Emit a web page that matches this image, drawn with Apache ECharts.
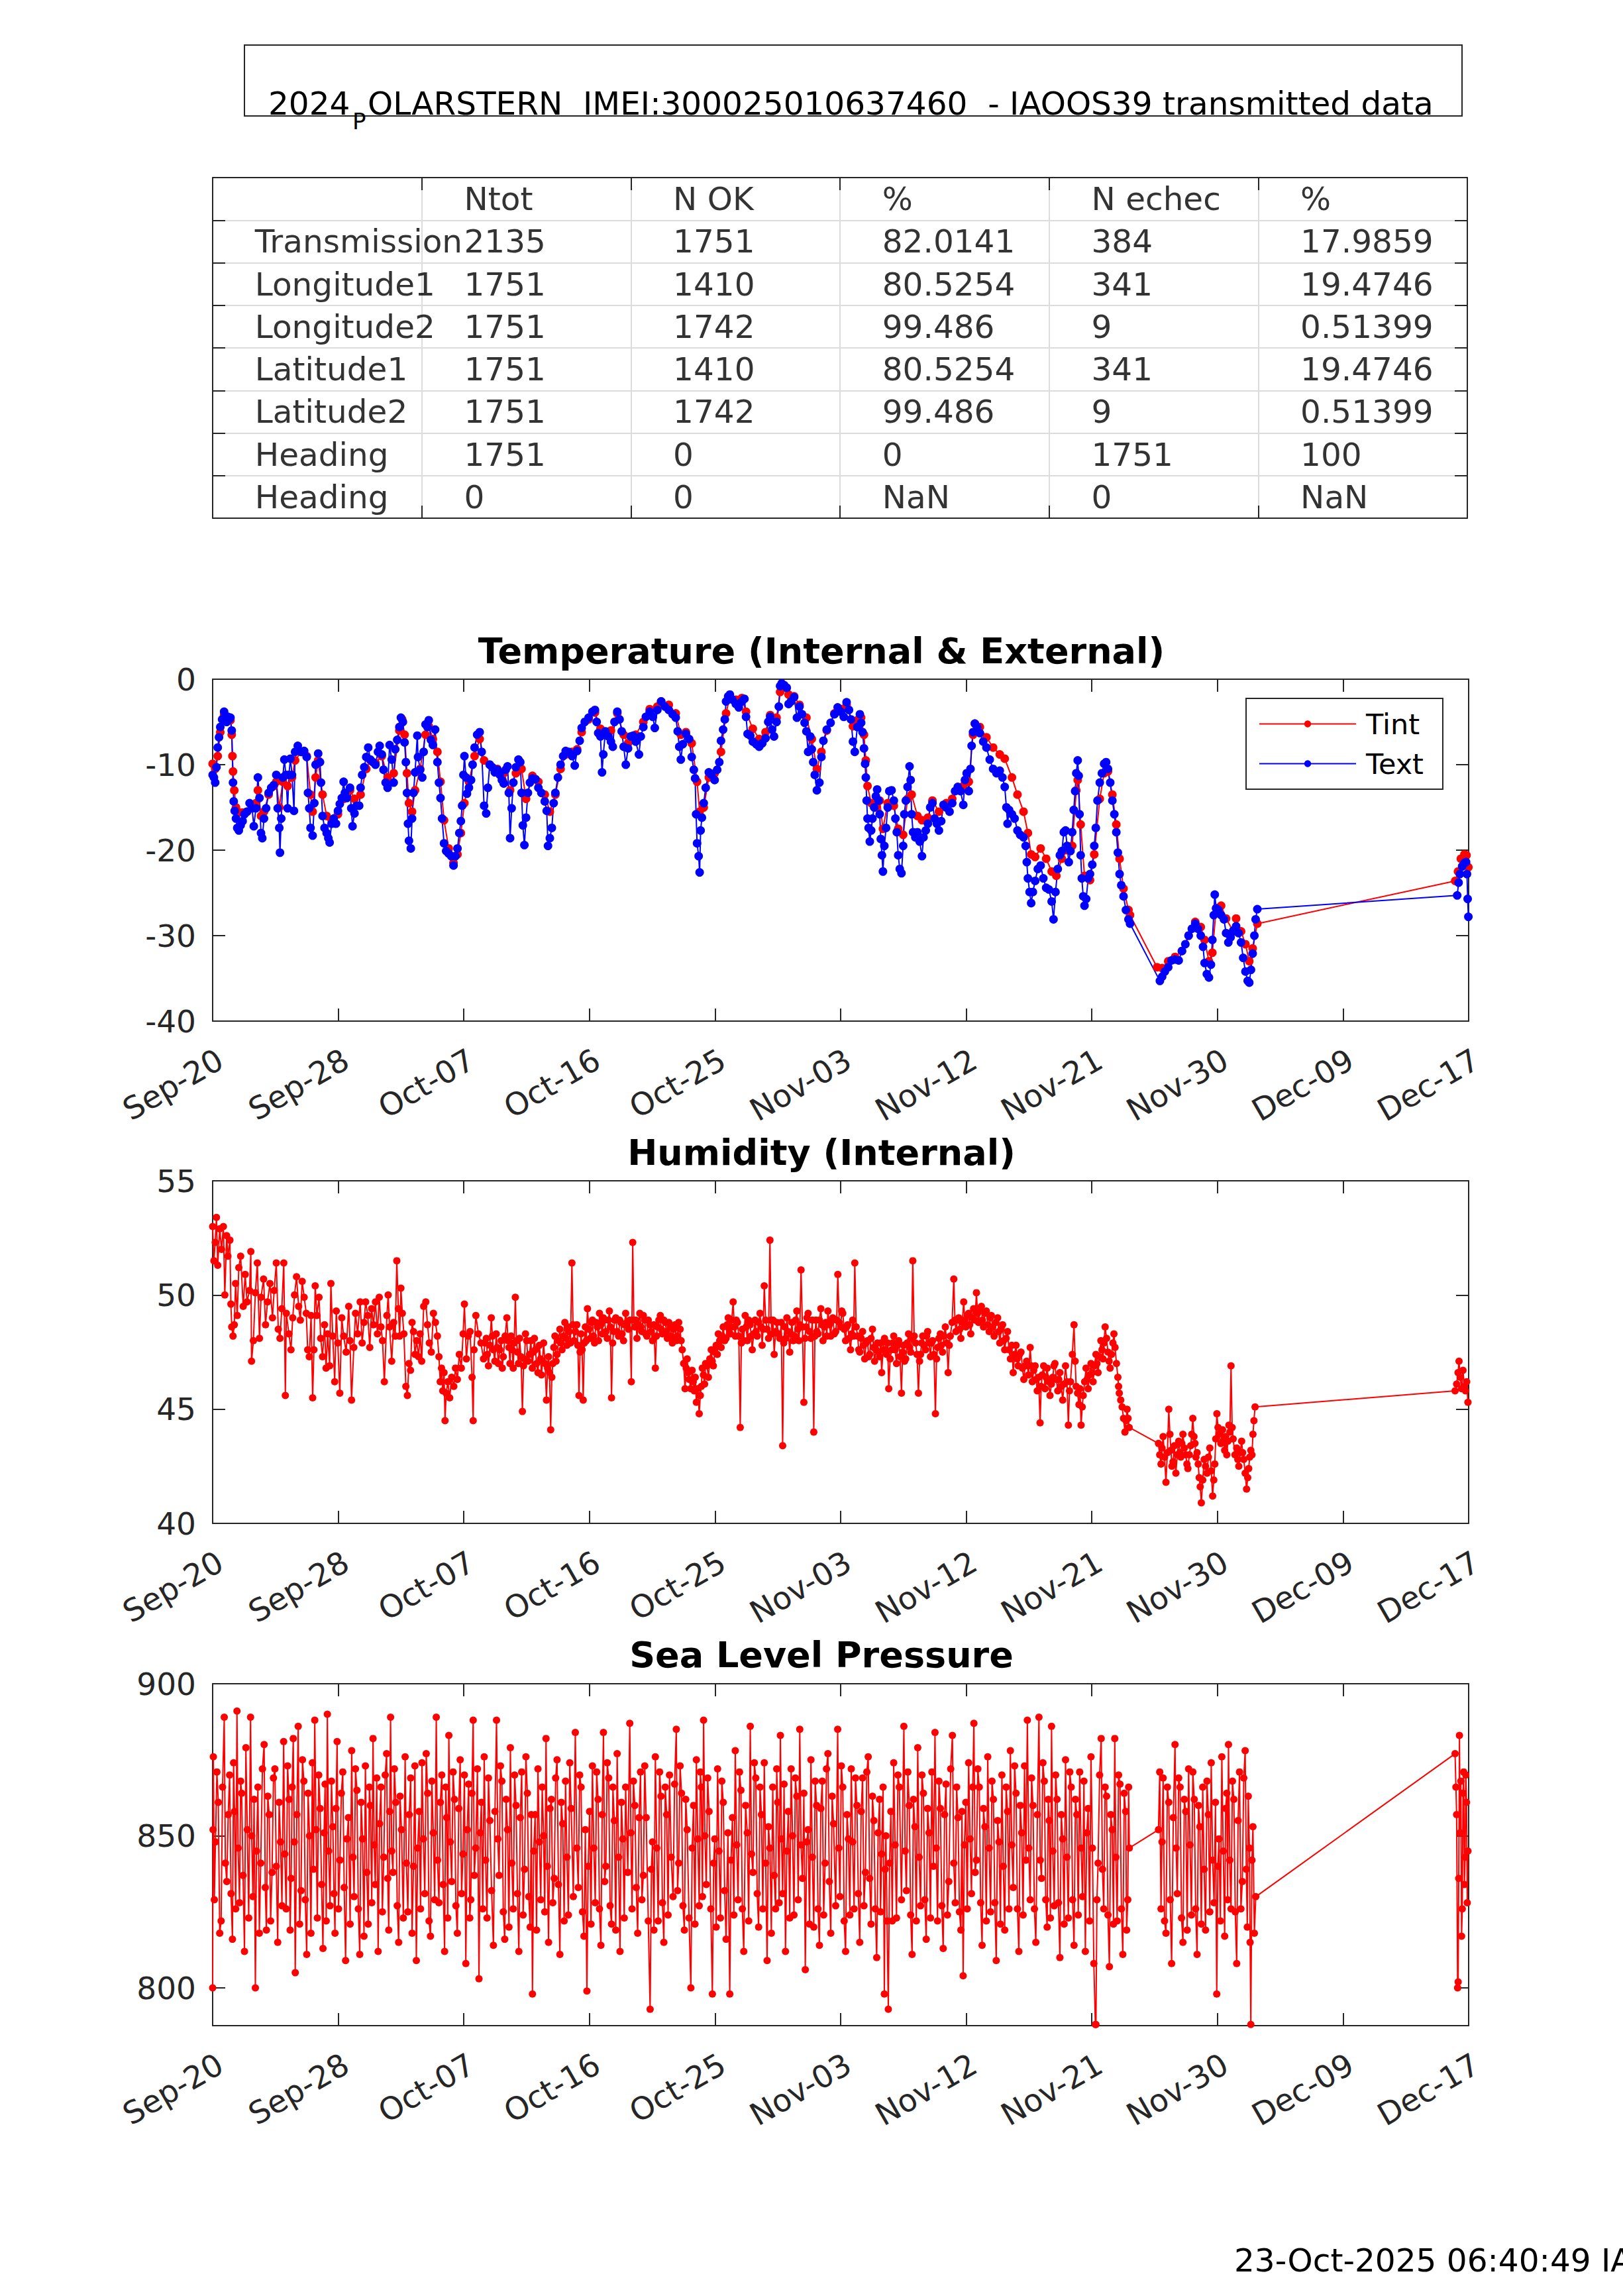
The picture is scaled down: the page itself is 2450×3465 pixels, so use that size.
<!DOCTYPE html>
<html><head><meta charset="utf-8">
<script src="https://cdn.jsdelivr.net/npm/echarts@6/dist/echarts.min.js"></script>
<style>html,body{margin:0;padding:0;background:#fff}#c{width:2450px;height:3465px}</style>
</head><body><div id="c"></div>
<script>
const FONT = 'DejaVu Sans';
const AXC = '#262626';

// x axis: days after the left edge (Sep-20), 10 equal tick intervals
const tickLabels = ['Sep-20','Sep-28','Oct-07','Oct-16','Oct-25','Nov-03','Nov-12','Nov-21','Nov-30','Dec-09','Dec-17'];
const X_MAX = 88.8, X_STEP = 8.88;

const tableHeader = ['', 'Ntot', 'N OK', '%', 'N echec', '%'];
const tableRows = [
  ['Transmission','2135','1751','82.0141','384','17.9859'],
  ['Longitude1','1751','1410','80.5254','341','19.4746'],
  ['Longitude2','1751','1742','99.486','9','0.51399'],
  ['Latitude1','1751','1410','80.5254','341','19.4746'],
  ['Latitude2','1751','1742','99.486','9','0.51399'],
  ['Heading','1751','0','0','1751','100'],
  ['Heading','0','0','NaN','0','NaN']
];

const plotTitles = ['Temperature (Internal & External)', 'Humidity (Internal)', 'Sea Level Pressure'];
const seriesNames = ['Tint', 'Text'];

const tintData = [
[0.00,-9.9],[0.18,-10.5],[0.36,-9.0],[0.54,-6.2],[0.81,-4.2],[1.08,-4.8],[1.26,-4.8],[1.35,-6.5],[1.40,-9.0],[1.44,-10.8],[1.53,-13.0],[1.65,-15.0],[1.85,-15.6],[2.12,-15.6],[2.43,-15.5],[2.79,-15.0],[3.06,-14.5],[3.20,-13.0],[3.42,-16.0],[3.63,-15.5],[3.96,-13.5],[4.32,-12.5],[4.50,-12.0],[4.71,-15.0],[4.96,-12.0],[5.30,-12.5],[5.61,-11.5],[5.83,-9.5],[6.26,-8.5],[6.65,-9.0],[6.92,-13.5],[7.07,-15.5],[7.28,-11.5],[7.46,-9.5],[7.77,-13.5],[8.06,-16.0],[8.41,-16.5],[8.86,-15.8],[9.26,-14.0],[9.71,-13.0],[10.03,-14.0],[10.46,-13.5],[10.86,-10.5],[11.15,-9.5],[11.51,-9.8],[11.96,-9.0],[12.37,-11.5],[12.80,-11.0],[13.20,-6.0],[13.40,-4.7],[13.57,-6.5],[13.74,-11.0],[13.88,-14.5],[14.10,-15.5],[14.31,-13.0],[14.67,-10.5],[15.05,-6.5],[15.28,-5.5],[15.57,-7.0],[15.89,-8.5],[16.11,-12.0],[16.36,-16.5],[16.69,-19.8],[17.03,-21.5],[17.31,-20.5],[17.55,-18.0],[17.80,-14.5],[18.12,-12.0],[18.52,-9.0],[18.88,-7.0],
[19.19,-9.5],[19.59,-10.0],[20.13,-10.5],[20.58,-11.0],[21.03,-13.0],[21.44,-11.0],[21.84,-10.5],[22.16,-14.0],[22.61,-11.3],[23.03,-12.0],[23.48,-13.5],[23.84,-15.5],[24.23,-13.5],[24.60,-10.5],[24.96,-8.8],[25.41,-8.5],[25.77,-8.2],[26.09,-6.2],[26.58,-4.7],[27.03,-3.9],[27.42,-5.8],[27.77,-6.2],[28.16,-6.0],[28.61,-4.0],[29.06,-6.5],[29.37,-7.5],[29.91,-6.5],[30.45,-5.0],[30.90,-3.5],[31.44,-3.2],[31.71,-2.6],[32.25,-3.0],[32.74,-4.0],[33.10,-6.5],[33.46,-6.2],[33.87,-7.5],[34.25,-12.0],[34.43,-15.5],[34.72,-15.0],[35.08,-11.5],[35.49,-11.0],[35.94,-8.5],[36.30,-4.0],[36.57,-2.0],[36.99,-2.4],[37.42,-2.2],[37.71,-3.8],[38.19,-5.8],[38.64,-7.0],[39.09,-6.2],[39.42,-4.2],[39.87,-4.5],[40.12,-1.5],[40.41,-1.0],[40.72,-1.8],[41.11,-2.0],[41.49,-3.0],[41.98,-4.5],[42.36,-7.0],[42.72,-10.5],[43.04,-8.5],[43.42,-6.0],[43.96,-4.0],[44.41,-3.5],[44.82,-3.0],[45.27,-5.5],[45.58,-4.8],
[45.85,-4.5],[46.05,-6.5],[46.18,-9.5],[46.30,-12.5],[46.56,-14.5],[46.89,-15.0],[47.16,-14.2],[47.39,-17.5],[47.73,-14.5],[48.16,-14.8],[48.47,-17.5],[48.82,-18.2],[49.13,-14.0],[49.42,-13.5],[49.83,-16.0],[50.15,-16.5],[50.57,-16.2],[50.89,-14.2],[51.35,-15.5],[51.86,-14.5],[52.29,-14.0],[52.68,-13.0],[53.07,-12.5],[53.46,-12.0],[53.76,-6.5],[53.89,-5.2],[54.24,-5.6],[54.71,-6.8],[55.18,-8.0],[55.65,-8.8],[56.00,-9.3],[56.51,-11.5],[56.90,-13.5],[57.33,-15.5],[57.64,-18.0],[57.87,-20.5],[58.15,-20.8],[58.54,-19.8],[58.93,-21.0],[59.32,-22.5],
[59.65,-23.0],[60.04,-21.0],[60.41,-20.0],[60.77,-19.5],[61.06,-13.0],[61.16,-11.8],[61.37,-17.0],[61.64,-23.0],[62.03,-23.5],[62.33,-20.5],[62.72,-14.0],[63.03,-11.0],[63.30,-10.8],[63.61,-13.5],[63.89,-17.0],[64.12,-21.0],[64.40,-24.5],[64.75,-27.0],[64.86,-27.6],
[66.77,-33.7],[67.13,-33.8],[67.56,-33.0],[68.04,-32.5],[68.53,-31.8],[69.00,-30.0],[69.47,-28.4],[69.86,-29.0],[70.13,-30.5],[70.44,-33.0],[70.68,-32.0],[70.95,-26.8],[71.30,-26.5],[71.65,-28.0],[72.16,-29.5],[72.36,-28.0],[72.71,-29.5],[73.02,-31.0],[73.29,-33.0],[73.53,-31.5],[73.86,-28.6],
[87.85,-23.6],[88.05,-22.5],[88.25,-21.0],[88.50,-20.5],[88.65,-20.6],[88.78,-22.0]
];

const textData = [
[0.00,-11.2],[0.09,-11.5],[0.18,-12.1],[0.27,-10.3],[0.36,-8.0],[0.45,-6.8],[0.54,-5.6],[0.67,-4.7],[0.81,-3.8],[0.90,-4.4],[0.99,-5.0],[1.08,-4.4],[1.17,-4.7],[1.26,-4.5],[1.35,-6.0],[1.44,-12.1],[1.49,-14.3],[1.56,-15.4],[1.65,-16.3],[1.74,-17.4],[1.85,-17.7],[1.98,-17.1],[2.12,-16.6],[2.25,-15.8],[2.43,-15.5],[2.61,-14.5],[2.79,-15.1],[2.91,-17.2],[3.06,-15.1],[3.20,-11.5],[3.31,-13.9],[3.42,-18.0],[3.51,-18.6],[3.63,-16.3],[3.78,-15.1],[3.96,-13.3],[4.14,-12.7],[4.32,-12.4],[4.50,-11.2],[4.60,-15.1],[4.71,-17.4],[4.76,-20.3],[4.85,-16.3],[4.96,-11.5],[5.07,-9.4],[5.18,-11.2],[5.30,-15.1],[5.39,-11.2],[5.50,-9.3],[5.61,-11.2],[5.75,-15.4],[5.83,-8.5],[6.02,-7.8],[6.26,-8.5],[6.47,-8.4],[6.65,-9.1],[6.74,-13.3],[6.83,-15.1],[6.92,-17.4],[7.07,-18.3],[7.19,-14.5],[7.28,-10.0],[7.46,-8.7],[7.59,-9.7],[7.66,-12.1],[7.77,-16.0],[7.91,-17.4],[8.06,-18.0],[8.18,-18.6],[8.27,-19.1],[8.41,-16.9],[8.56,-16.3],[8.72,-16.9],[8.86,-15.4],[8.99,-14.6],[9.13,-13.9],[9.26,-12.0],[9.35,-13.3],[9.49,-13.9],[9.71,-12.7],[9.80,-15.1],[9.89,-17.2],[10.03,-15.7],[10.18,-14.8],[10.36,-14.8],[10.46,-12.7],[10.57,-11.2],[10.72,-10.3],[10.86,-9.1],[11.00,-8.0],[11.15,-9.4],[11.33,-9.7],[11.51,-10.0],[11.69,-8.5],[11.81,-7.8],[11.96,-8.8],[12.08,-10.6],[12.23,-12.1],[12.37,-12.7],[12.51,-7.7],[12.66,-9.4],[12.80,-12.1],[12.91,-8.2],[13.05,-7.1],[13.20,-5.6],[13.31,-4.5],[13.45,-5.0],[13.57,-7.4],[13.66,-9.7],[13.74,-13.3],[13.81,-16.9],[13.88,-18.9],[14.01,-19.8],[14.10,-16.3],[14.20,-13.3],[14.31,-10.9],[14.47,-6.6],[14.52,-9.1],[14.67,-10.6],[14.82,-11.5],[14.92,-8.5],[15.05,-5.3],[15.19,-5.6],[15.28,-4.8],[15.43,-7.1],[15.57,-7.7],[15.73,-5.9],[15.89,-9.7],[16.00,-12.1],[16.11,-13.9],[16.22,-16.3],[16.36,-19.2],[16.51,-20.1],[16.69,-20.4],[16.87,-20.7],[17.03,-21.8],[17.17,-20.7],[17.31,-19.8],[17.44,-18.0],[17.55,-16.6],[17.64,-14.8],[17.73,-11.2],[17.80,-9.0],[17.91,-11.5],[17.98,-13.4],[18.12,-12.7],[18.27,-11.8],[18.38,-10.0],[18.52,-8.0],[18.70,-6.5],[18.88,-6.2],[19.02,-8.5],
[19.19,-14.8],[19.34,-15.7],[19.46,-12.7],[19.59,-10.0],[19.77,-10.3],[19.95,-10.9],[20.13,-10.6],[20.31,-11.2],[20.45,-11.8],[20.58,-12.2],[20.72,-10.6],[20.85,-10.2],[20.94,-13.3],[21.03,-18.6],[21.14,-15.1],[21.26,-12.1],[21.44,-10.3],[21.62,-9.4],[21.75,-9.7],[21.84,-13.3],[21.93,-17.1],[22.04,-19.4],[22.16,-16.2],[22.29,-13.3],[22.43,-12.1],[22.61,-11.6],[22.83,-11.7],[23.03,-12.7],[23.24,-13.3],[23.48,-14.3],[23.62,-15.4],[23.71,-19.5],[23.84,-18.6],[23.98,-17.4],[24.11,-14.5],[24.23,-13.3],[24.41,-11.5],[24.60,-10.0],[24.78,-9.0],[24.96,-8.4],[25.17,-8.5],[25.41,-9.0],[25.60,-10.1],[25.77,-8.4],[25.95,-7.2],[26.09,-5.7],[26.31,-5.0],[26.58,-4.5],[26.85,-3.8],[27.03,-3.6],[27.15,-5.0],[27.26,-6.3],[27.42,-6.7],[27.53,-10.9],[27.62,-8.8],[27.77,-6.1],[27.98,-6.7],[28.16,-7.3],[28.29,-7.9],[28.41,-5.0],[28.61,-3.8],[28.77,-4.7],[28.92,-6.1],[29.06,-7.9],[29.21,-10.0],[29.37,-8.1],[29.55,-6.7],[29.73,-6.6],[29.91,-7.3],[30.14,-8.8],[30.27,-6.7],[30.45,-5.6],[30.63,-4.4],[30.90,-3.8],[31.12,-4.4],[31.26,-5.7],[31.44,-3.6],[31.71,-2.6],[31.98,-3.2],[32.25,-3.6],[32.52,-4.1],[32.74,-4.5],[32.88,-6.1],[32.99,-7.9],[33.10,-9.4],[33.24,-7.6],[33.46,-6.4],[33.69,-7.0],[33.87,-9.1],[34.02,-10.6],[34.11,-11.6],[34.18,-15.8],[34.25,-19.2],[34.36,-20.7],[34.43,-22.6],[34.50,-17.7],[34.59,-16.2],[34.72,-14.5],[34.86,-12.7],[35.08,-10.9],[35.26,-11.2],[35.49,-11.8],[35.67,-10.6],[35.82,-9.7],[35.94,-7.2],[36.09,-5.9],[36.21,-4.7],[36.30,-2.6],[36.45,-2.0],[36.57,-1.8],[36.75,-2.4],[36.99,-2.9],[37.20,-3.3],[37.42,-2.6],[37.60,-2.3],[37.71,-4.4],[37.82,-6.4],[38.01,-6.6],[38.19,-7.3],[38.43,-7.6],[38.64,-7.9],[38.86,-7.5],[39.09,-6.9],[39.28,-5.0],[39.42,-4.4],[39.55,-5.9],[39.69,-6.7],[39.87,-5.0],[40.03,-3.2],[40.12,-0.8],[40.23,-0.5],[40.41,-0.7],[40.59,-1.0],[40.72,-2.9],[40.90,-2.6],[41.11,-2.1],[41.31,-4.5],[41.49,-3.2],[41.67,-4.1],[41.85,-5.1],[41.98,-6.1],[42.10,-8.5],[42.25,-6.7],[42.36,-8.2],[42.46,-9.7],[42.57,-11.2],[42.72,-13.0],[42.90,-12.1],[43.04,-9.1],[43.18,-7.2],[43.42,-5.9],[43.69,-5.1],[43.96,-4.1],[44.19,-3.3],[44.41,-3.8],[44.62,-4.4],[44.82,-2.7],[44.99,-3.6],[45.13,-4.7],[45.27,-7.3],[45.40,-8.5],[45.58,-5.6],[45.76,-4.1],
[45.85,-5.1],[45.95,-6.2],[46.05,-8.1],[46.13,-9.9],[46.18,-11.5],[46.24,-14.2],[46.30,-16.3],[46.38,-17.4],[46.46,-19.0],[46.56,-17.7],[46.65,-16.3],[46.77,-15.0],[46.89,-13.7],[46.98,-12.9],[47.08,-14.2],[47.16,-15.8],[47.24,-18.7],[47.32,-20.6],[47.39,-22.5],[47.49,-19.5],[47.61,-17.4],[47.73,-15.0],[47.84,-13.1],[48.00,-13.0],[48.16,-14.2],[48.27,-16.3],[48.37,-17.9],[48.47,-20.6],[48.58,-22.2],[48.70,-22.7],[48.82,-19.5],[48.90,-15.8],[49.01,-14.2],[49.13,-12.6],[49.27,-10.2],[49.35,-11.8],[49.42,-15.8],[49.52,-17.9],[49.68,-18.5],[49.83,-17.9],[49.99,-19.0],[50.15,-20.7],[50.26,-18.5],[50.42,-17.7],[50.57,-16.9],[50.73,-15.0],[50.89,-14.5],[51.04,-16.3],[51.20,-16.9],[51.35,-17.7],[51.51,-16.6],[51.67,-14.7],[51.86,-15.0],[52.10,-15.5],[52.29,-14.5],[52.49,-13.1],[52.68,-12.6],[52.88,-13.1],[53.07,-14.7],[53.19,-11.8],[53.31,-11.0],[53.46,-13.1],[53.58,-10.5],[53.66,-7.8],[53.76,-6.2],[53.89,-5.2],[54.05,-5.6],[54.24,-6.3],[54.48,-7.3],[54.71,-8.0],[54.94,-9.4],[55.18,-10.5],[55.42,-11.0],[55.65,-10.7],[55.84,-11.5],[56.00,-12.6],[56.12,-15.0],[56.20,-16.9],[56.31,-15.3],[56.51,-15.8],[56.70,-16.3],[56.90,-17.7],[57.09,-18.2],[57.33,-18.5],[57.48,-19.5],[57.56,-21.4],[57.64,-23.3],[57.76,-24.9],[57.87,-26.2],[57.99,-24.9],[58.15,-23.6],[58.34,-22.2],[58.54,-21.8],[58.73,-23.3],[58.93,-24.4],[59.12,-24.6],[59.32,-26.0],[59.45,-28.1],[59.59,-24.9],[59.75,-22.2],[59.90,-20.6],
[60.04,-20.1],[60.18,-17.9],[60.30,-17.7],[60.41,-19.5],[60.53,-21.4],[60.65,-20.1],[60.77,-17.9],[60.88,-15.3],[60.98,-13.1],[61.06,-11.0],[61.16,-9.5],[61.23,-11.3],[61.29,-15.8],[61.37,-20.6],[61.45,-23.3],[61.55,-25.4],[61.64,-26.5],[61.76,-25.7],[61.90,-23.3],[62.03,-22.8],[62.19,-21.7],[62.33,-19.5],[62.44,-17.4],[62.56,-14.2],[62.72,-12.1],[62.87,-11.0],[63.03,-9.9],[63.17,-9.7],[63.30,-10.5],[63.46,-12.1],[63.61,-14.2],[63.75,-15.8],[63.89,-17.9],[64.00,-20.3],[64.12,-22.8],[64.24,-24.1],[64.40,-25.4],[64.57,-27.0],[64.75,-28.1],[64.86,-28.6],
[66.97,-35.3],[67.13,-34.8],[67.32,-34.2],[67.56,-33.7],[67.79,-32.9],[68.04,-32.8],[68.30,-32.9],[68.53,-31.8],[68.77,-31.0],[69.00,-30.0],[69.23,-29.2],[69.47,-28.6],[69.66,-29.2],[69.86,-30.0],[70.02,-31.3],[70.13,-33.2],[70.29,-34.5],[70.44,-34.9],[70.58,-33.4],[70.68,-30.5],[70.78,-27.6],[70.85,-25.2],[70.95,-26.8],[71.11,-27.0],[71.30,-27.6],[71.50,-28.1],[71.65,-29.7],[71.81,-30.8],[71.97,-30.2],[72.16,-29.4],[72.36,-28.9],[72.53,-29.7],[72.71,-30.8],[72.86,-32.6],[73.02,-34.2],[73.18,-35.3],[73.29,-35.5],[73.41,-34.0],[73.53,-32.1],[73.65,-30.0],[73.74,-28.1],[73.86,-26.9],
[87.99,-25.3],[88.09,-23.8],[88.18,-22.8],[88.34,-21.9],[88.50,-21.5],[88.62,-21.4],[88.68,-22.8],[88.73,-25.7],[88.78,-27.8]
];

const humidityData = [
[0.00,53.0],[0.09,51.5],[0.18,52.3],[0.27,53.4],[0.36,51.3],[0.50,52.9],[0.63,52.0],[0.76,53.0],[0.86,50.0],[0.99,52.6],[1.08,51.7],[1.22,52.4],[1.29,49.6],[1.35,48.6],[1.44,48.2],[1.53,48.7],[1.62,50.5],[1.74,49.1],[1.85,51.2],[1.98,51.7],[2.16,49.5],[2.30,50.9],[2.43,49.7],[2.61,50.2],[2.70,51.9],[2.75,47.1],[2.88,48.0],[3.02,50.1],[3.16,51.4],[3.31,48.1],[3.42,49.9],[3.60,50.7],[3.74,48.7],[3.88,49.7],[4.05,50.5],[4.23,49.0],[4.35,50.2],[4.50,51.4],[4.64,48.5],[4.76,48.1],[4.89,49.4],[5.03,51.4],[5.14,45.6],[5.21,49.2],[5.39,48.3],[5.54,47.6],[5.66,49.0],[5.79,50.0],[5.93,50.8],[6.08,49.5],[6.20,48.9],[6.33,50.6],[6.47,49.9],[6.62,49.2],[6.72,47.6],[6.83,47.3],[6.96,49.1],[7.07,45.5],[7.16,47.6],[7.25,50.4],[7.37,49.1],[7.52,49.9],[7.64,48.1],[7.77,47.3],[7.91,48.7],[8.02,46.8],[8.13,48.3],[8.27,46.9],[8.36,50.5],[8.49,48.2],[8.63,46.2],[8.74,49.3],[8.85,47.9],[8.99,45.7],[9.13,49.0],[9.26,48.2],[9.44,47.5],[9.62,49.5],[9.71,48.0],[9.82,45.4],[9.98,47.7],[10.10,49.2],[10.25,48.3],[10.43,49.7],[10.57,47.9],[10.70,48.8],[10.82,49.7],[10.97,49.1],[11.11,47.7],[11.24,49.4],[11.37,48.7],[11.51,49.7],[11.65,48.3],[11.78,49.9],[11.90,48.6],[12.01,48.0],[12.14,46.2],[12.32,49.1],[12.41,50.0],[12.51,48.6],[12.66,47.1],[12.80,48.8],[12.91,48.2],[13.02,51.5],[13.13,49.4],[13.22,48.2],[13.31,50.3],[13.41,49.2],[13.52,48.3],[13.66,46.0],[13.77,45.6],[13.88,47.0],[13.99,46.7],[14.10,48.8],[14.20,48.4],[14.31,47.4],[14.42,48.0],[14.56,47.3],[14.67,48.3],[14.78,47.1],[14.92,49.5],[15.07,49.7],[15.19,48.7],[15.32,47.9],[15.46,47.5],[15.61,49.2],[15.75,48.8],[15.89,48.2],[16.00,47.3],[16.09,46.2],[16.18,46.8],[16.27,45.8],[16.36,46.6],[16.43,44.5],[16.51,45.7],[16.63,46.2],[16.76,45.5],[16.90,46.4],[17.05,46.0],[17.17,46.8],[17.30,46.3],[17.44,47.4],[17.58,46.8],[17.71,48.3],[17.80,49.6],[17.94,47.2],[18.07,48.2],[18.20,48.4],[18.34,46.4],[18.42,44.5],[18.48,47.6],[18.61,49.1],[18.79,48.3],[18.97,47.9],
[19.15,47.2],[19.25,47.9],[19.35,48.1],[19.42,47.4],[19.50,46.9],[19.60,47.8],[19.70,49.0],[19.78,48.2],[19.85,47.6],[19.95,47.1],[20.05,48.3],[20.12,47.7],[20.20,47.0],[20.30,47.6],[20.40,48.0],[20.48,46.8],[20.55,47.3],[20.68,48.2],[20.80,49.0],[20.88,48.0],[20.95,47.7],[21.02,47.0],[21.10,48.2],[21.18,47.6],[21.25,46.8],[21.32,47.9],[21.40,49.9],[21.48,48.0],[21.55,47.5],[21.62,47.0],[21.70,48.1],[21.80,47.3],[21.90,44.9],[21.98,46.9],[22.05,47.2],[22.12,48.3],[22.20,48.0],[22.30,47.1],[22.40,47.4],[22.50,48.0],[22.60,46.8],[22.68,47.5],[22.75,48.1],[22.82,47.6],[22.90,47.0],[23.00,46.6],[23.10,47.8],[23.18,47.2],[23.25,46.5],[23.32,47.1],[23.40,47.9],[23.50,47.0],[23.60,45.4],[23.68,46.8],[23.75,47.3],[23.82,46.6],[23.90,44.1],[23.98,46.4],[24.05,47.0],[24.12,47.7],[24.20,48.2],[24.28,47.1],[24.35,47.4],[24.45,48.0],[24.55,48.5],[24.62,47.9],[24.70,47.6],[24.80,48.2],[24.90,48.8],[24.98,48.1],[25.05,47.8],[25.12,48.6],[25.20,48.4],[25.30,47.9],[25.40,51.4],[25.48,48.7],[25.55,48.0],[25.65,48.4],[25.75,48.7],[25.82,47.8],[25.90,45.6],[25.98,47.5],[26.05,48.3],[26.12,47.6],[26.20,45.4],[26.28,47.9],[26.35,48.6],[26.42,48.0],[26.50,49.4],[26.60,48.5],[26.70,48.1],[26.78,48.8],[26.85,48.9],[26.92,48.2],[27.00,47.9],[27.10,48.8],[27.20,48.6],[27.28,48.0],[27.35,49.2],[27.45,48.7],[27.55,48.3],[27.62,49.0],[27.70,48.9],[27.80,48.4],[27.90,48.1],[27.98,48.9],[28.05,49.3],[28.12,48.6],[28.20,45.5],[28.28,47.9],[28.35,48.4],[28.42,48.9],[28.50,49.0],[28.60,48.4],[28.70,48.2],[28.78,48.9],[28.85,48.8],[28.95,48.3],[29.05,48.0],[29.12,48.7],[29.20,49.2],[29.30,48.8],[29.40,48.5],[29.50,48.9],[29.60,46.2],[29.70,52.3],[29.78,48.9],[29.85,48.6],[29.92,48.9],[30.00,48.1],[30.10,48.7],[30.20,49.2],[30.28,48.6],[30.35,48.4],[30.45,49.1],[30.55,48.9],[30.62,48.3],[30.70,48.2],[30.80,48.9],[30.90,48.7],[31.00,48.4],[31.10,48.0],[31.20,48.7],[31.30,46.8],[31.38,48.2],[31.45,48.6],[31.55,48.9],[31.65,49.1],[31.72,48.5],[31.80,48.3],[31.90,48.9],[32.00,48.8],[32.08,48.4],[32.15,48.1],[32.25,48.8],[32.35,48.6],[32.42,48.2],[32.50,47.9],[32.60,48.5],[32.70,48.7],[32.78,48.0],[32.85,48.2],[32.95,48.8],[33.05,48.5],[33.12,48.0],[33.20,47.6],[33.30,47.0],[33.40,45.9],[33.48,46.8],[33.55,47.2],[33.62,46.6],[33.70,46.3],[33.80,45.9],[33.90,46.7],[33.98,46.2],[34.05,45.8],[34.12,46.4],[34.20,45.3],[34.30,45.9],[34.40,44.8],[34.48,45.6],[34.55,46.0],[34.62,46.8],[34.70,46.5],[34.78,46.1],[34.85,47.0],[34.95,46.9],[35.05,46.4],[35.15,47.2],[35.25,47.6],[35.32,47.1],[35.40,46.9],[35.50,47.5],[35.60,47.8],[35.68,47.4],[35.75,48.3],[35.85,48.0],[35.95,47.7],[36.02,48.2],[36.10,48.6],[36.20,48.0],[36.30,48.1],[36.38,48.7],[36.45,49.0],[36.52,48.5],[36.60,48.3],[36.70,48.9],[36.80,49.7],[36.88,48.6],[36.95,48.2],[37.02,48.9],[37.10,48.8],[37.20,48.2],[37.30,44.2],[37.38,47.9],[37.45,48.5],[37.55,48.0],[37.65,49.1],[37.72,48.6],[37.80,48.0],[37.90,48.9],[38.00,48.7],[38.08,48.2],[38.15,47.6],[38.25,48.3],[38.35,48.9],[38.42,48.4],[38.50,48.2],[38.60,48.8],[38.70,49.2],[38.78,48.6],[38.85,47.8],[38.92,48.5],[39.00,50.4],[39.10,48.9],[39.20,48.5],[39.30,48.1],[39.40,52.4],[39.48,48.9],[39.55,48.3],[39.62,48.9],[39.70,47.4],[39.80,48.4],[39.90,48.8],[40.00,48.3],[40.10,48.1],[40.20,48.8],[40.30,43.4],[40.38,47.9],[40.45,48.6],[40.52,48.1],[40.60,49.0],[40.70,48.4],[40.80,47.5],[40.88,48.3],[40.95,48.8],[41.05,48.0],[41.15,48.2],[41.22,48.9],[41.30,49.3],[41.38,48.5],[41.45,48.0],[41.52,48.7],[41.60,51.1],[41.70,48.6],[41.80,45.3],[41.88,48.1],[41.95,48.6],[42.02,49.0],[42.10,49.2],[42.20,48.4],[42.30,48.1],[42.40,48.9],[42.50,44.0],[42.58,48.2],[42.65,48.9],[42.72,48.4],[42.80,48.3],[42.90,48.9],[43.00,49.4],[43.08,48.7],[43.15,48.0],[43.25,48.6],[43.35,48.8],[43.42,48.2],[43.50,49.3],[43.60,48.7],[43.70,48.2],[43.78,48.9],[43.85,49.0],[43.95,48.3],[44.05,48.4],[44.12,48.9],[44.20,50.9],[44.30,48.8],[44.40,48.6],[44.48,49.3],[44.55,49.2],[44.65,48.5],[44.75,48.0],[44.82,48.6],[44.90,48.7],[45.00,48.1],[45.10,47.6],[45.18,48.3],[45.25,48.9],[45.32,48.2],[45.40,51.4],[45.50,48.6],[45.60,48.2],[45.68,47.6],[45.75,47.5],[45.85,48.1],[45.95,48.4],[46.02,47.8],[46.10,47.2],[46.20,47.9],[46.30,48.0],[46.38,47.3],[46.45,47.4],[46.55,48.1],[46.65,48.5],[46.72,47.7],[46.80,47.1],[46.90,47.6],[47.00,47.9],[47.08,47.5],[47.15,47.3],[47.22,47.9],[47.30,46.6],[47.40,47.6],[47.50,48.1],[47.58,47.6],[47.65,47.4],[47.72,47.9],[47.80,45.9],[47.90,47.2],[48.00,47.6],[48.08,47.9],[48.15,48.2],[48.25,47.6],[48.35,47.0],[48.42,47.8],[48.50,48.0],[48.60,47.3],[48.70,45.7],[48.78,47.5],[48.85,47.8],[48.92,47.1],[49.00,47.2],[49.10,47.9],[49.20,48.3],[49.28,47.7],[49.35,47.5],[49.42,48.1],[49.50,51.5],[49.60,48.2],[49.70,47.9],[49.80,47.4],[49.90,45.7],[49.98,47.1],[50.05,47.4],[50.12,47.9],[50.20,48.2],[50.30,47.8],[50.40,47.6],[50.48,48.2],[50.55,48.4],[50.65,47.9],[50.75,47.3],[50.82,47.9],[50.90,48.0],[51.00,47.4],[51.10,44.8],[51.18,47.2],[51.25,47.7],[51.35,48.1],[51.45,48.3],[51.52,47.8],[51.60,47.5],[51.70,48.2],[51.80,48.6],[51.90,47.9],[52.00,46.6],[52.08,47.8],[52.15,48.2],[52.28,48.8],[52.40,50.7],[52.48,48.9],[52.55,48.4],[52.65,48.9],[52.75,49.0],[52.82,48.5],[52.90,48.1],[53.00,48.8],[53.10,49.7],[53.18,48.9],[53.25,48.6],[53.35,49.1],[53.45,49.2],[53.52,48.7],[53.60,48.3],[53.70,49.0],[53.80,49.4],[53.90,48.9],[54.00,50.1],[54.08,49.2],[54.15,48.8],[54.25,49.4],[54.35,49.5],[54.42,48.9],[54.50,48.6],[54.60,49.2],[54.70,49.3],[54.80,48.7],[54.90,48.4],[54.98,49.0],[55.05,49.1],[55.15,48.6],[55.25,48.2],[55.38,48.8],[55.50,49.0],[55.58,48.4],[55.65,47.9],[55.75,48.5],[55.85,48.7],[55.92,48.0],[56.00,47.6],[56.10,48.1],[56.20,48.4],[56.30,47.6],[56.40,47.2],[56.50,47.8],[56.60,46.6],[56.70,47.4],[56.80,47.8],[56.88,47.2],[56.95,46.9],[57.05,47.4],[57.15,47.5],[57.25,46.8],[57.35,46.3],[57.45,46.9],[57.55,47.1],[57.68,46.5],[57.80,47.7],[57.88,46.9],[57.95,46.2],[58.05,46.7],[58.15,46.9],[58.22,46.3],[58.30,45.8],[58.40,46.4],[58.50,44.4],[58.58,46.0],[58.65,46.5],[58.75,46.9],[58.85,45.9],[58.92,46.4],[59.00,46.8],[59.10,46.2],[59.20,45.6],[59.30,46.1],[59.40,46.4],[59.48,46.9],[59.55,47.0],[59.65,46.3],[59.75,45.8],[59.82,46.3],[59.90,46.6],[60.00,46.0],[60.10,45.4],[60.20,46.1],[60.30,46.9],[60.40,46.2],[60.50,44.3],[60.58,45.8],[60.65,46.2],[60.78,47.4],[60.90,48.7],[60.98,47.1],[61.05,46.0],[61.15,45.7],[61.25,45.2],[61.32,45.9],[61.40,44.3],[61.48,45.1],[61.55,45.6],[61.65,46.2],[61.75,46.8],[61.82,46.3],[61.90,45.9],[62.00,46.5],[62.10,47.0],[62.18,46.6],[62.25,46.2],[62.35,46.9],[62.45,47.4],[62.52,47.0],[62.60,46.6],[62.70,47.3],[62.80,48.0],[62.88,47.6],[62.95,47.2],[63.02,47.9],[63.10,48.6],[63.20,48.1],[63.30,47.5],[63.38,47.1],[63.45,46.8],[63.55,47.4],[63.65,47.9],[63.72,48.3],[63.80,47.7],[63.90,47.0],[64.00,46.4],[64.05,46.0],[64.10,45.7],[64.20,45.4],[64.30,45.1],[64.40,44.6],[64.50,44.0],[64.58,44.5],[64.65,45.0],[64.72,44.6],[64.80,44.2],
[66.87,43.5],[66.96,43.0],[67.05,42.6],[67.12,43.3],[67.20,43.8],[67.30,42.9],[67.40,41.8],[67.50,43.1],[67.60,45.0],[67.68,43.9],[67.75,43.2],[67.82,42.5],[67.90,42.7],[68.00,43.4],[68.10,42.2],[68.20,43.0],[68.30,43.6],[68.38,43.1],[68.45,42.9],[68.52,43.5],[68.60,43.9],[68.70,43.3],[68.80,43.0],[68.88,42.6],[68.95,42.4],[69.05,43.0],[69.15,43.4],[69.22,43.9],[69.30,44.6],[69.38,43.8],[69.45,43.5],[69.52,42.9],[69.60,43.1],[69.68,42.6],[69.75,42.0],[69.82,41.6],[69.90,40.9],[70.00,41.9],[70.10,42.8],[70.20,42.5],[70.30,42.2],[70.40,42.9],[70.50,43.3],[70.60,42.3],[70.70,41.2],[70.78,41.9],[70.85,42.6],[70.92,43.7],[71.00,44.8],[71.08,44.2],[71.15,43.9],[71.28,43.5],[71.40,44.1],[71.48,43.6],[71.55,43.2],[71.62,43.8],[71.70,43.0],[71.78,43.6],[71.85,44.3],[71.92,44.0],[72.00,46.9],[72.08,44.2],[72.15,43.7],[72.28,43.0],[72.40,43.3],[72.48,42.8],[72.55,42.5],[72.65,43.1],[72.75,43.6],[72.82,43.1],[72.90,42.8],[73.00,42.2],[73.10,41.5],[73.18,42.0],[73.25,42.4],[73.32,42.9],[73.40,43.2],[73.48,43.0],[73.55,43.9],[73.62,44.5],[73.70,45.1],
[87.84,45.8],[87.95,46.1],[88.05,46.6],[88.12,47.1],[88.20,46.4],[88.30,45.9],[88.40,46.7],[88.50,46.0],[88.58,45.8],[88.66,46.2],[88.75,45.3]
];

const pressureData = [
[0.00,800],[0.03,852],[0.05,876],[0.12,829],[0.20,848],[0.30,871],[0.40,861],[0.50,818],[0.60,822],[0.70,866],[0.82,889],[0.90,841],[1.00,835],[1.10,857],[1.20,870],[1.30,831],[1.40,816],[1.48,874],[1.55,858],[1.63,826],[1.72,891],[1.80,846],[1.90,828],[1.98,868],[2.05,864],[2.15,837],[2.25,812],[2.35,879],[2.45,852],[2.55,823],[2.68,889],[2.76,850],[2.85,830],[2.93,862],[3.02,800],[3.10,845],[3.20,866],[3.30,818],[3.40,841],[3.52,872],[3.64,880],[3.72,833],[3.80,819],[3.90,863],[4.00,857],[4.10,822],[4.20,838],[4.30,869],[4.40,872],[4.50,840],[4.60,815],[4.70,861],[4.80,848],[4.90,827],[5.02,881],[5.10,844],[5.20,826],[5.30,873],[5.40,862],[5.48,819],[5.55,836],[5.62,866],[5.70,882],[5.77,848],[5.84,805],[5.95,857],[6.05,886],[6.15,821],[6.25,832],[6.35,875],[6.45,868],[6.55,829],[6.65,811],[6.75,864],[6.85,850],[6.95,818],[7.05,874],[7.13,839],[7.22,888],[7.31,852],[7.40,823],[7.50,870],[7.60,859],[7.70,834],[7.80,813],[7.88,851],[7.95,867],[8.03,822],[8.11,890],[8.20,845],[8.30,827],[8.40,868],[8.50,853],[8.58,831],[8.65,818],[8.72,859],[8.80,881],[8.90,826],[9.00,842],[9.10,864],[9.20,871],[9.30,833],[9.40,809],[9.50,849],[9.60,856],[9.72,821],[9.83,878],[9.92,843],[10.00,830],[10.10,872],[10.20,865],[10.30,826],[10.40,811],[10.50,861],[10.60,849],[10.70,817],[10.80,873],[10.90,838],[11.00,821],[11.08,866],[11.15,860],[11.25,828],[11.34,882],[11.42,847],[11.50,834],[11.60,869],[11.70,812],[11.80,854],[11.90,866],[12.00,825],[12.10,843],[12.20,870],[12.30,877],[12.38,836],[12.45,819],[12.52,858],[12.58,889],[12.66,845],[12.75,838],[12.85,872],[12.95,861],[13.05,827],[13.15,815],[13.25,863],[13.35,852],[13.48,823],[13.61,876],[13.70,841],[13.80,825],[13.90,857],[14.00,869],[14.10,818],[14.20,840],[14.30,873],[14.40,809],[14.50,846],[14.60,858],[14.70,826],[14.80,874],[14.90,849],[15.00,831],[15.10,877],[15.20,864],[15.30,822],[15.40,817],[15.50,868],[15.60,851],[15.70,829],[15.81,889],[15.90,842],[16.00,828],[16.10,861],[16.20,870],[16.30,834],[16.40,812],[16.48,866],[16.55,856],[16.62,823],[16.70,883],[16.80,848],[16.90,835],[17.00,871],[17.10,862],[17.20,827],[17.30,818],[17.40,859],[17.50,875],[17.60,831],[17.70,844],[17.80,870],[17.90,808],[18.00,852],[18.10,867],[18.18,823],[18.25,829],[18.33,864],[18.42,888],[18.50,837],[18.60,846],[18.72,872],[18.83,803],[18.92,851],[19.00,861],[19.10,826],[19.20,876],[19.30,842],[19.40,823],[19.50,869],[19.60,855],[19.72,832],[19.85,814],[19.96,858],[20.07,888],[20.16,849],[20.25,837],[20.35,873],[20.45,868],[20.55,825],[20.65,816],[20.75,862],[20.85,852],[20.95,820],[21.05,879],[21.15,841],[21.25,826],[21.35,870],[21.45,860],[21.55,831],[21.65,812],[21.75,856],[21.85,871],[21.95,824],[22.05,839],[22.15,876],[22.25,864],[22.35,830],[22.45,820],[22.53,857],[22.61,798],[22.70,845],[22.80,857],[22.90,819],[23.00,872],[23.10,848],[23.20,829],[23.30,866],[23.40,850],[23.48,825],[23.57,882],[23.66,840],[23.75,815],[23.85,859],[23.95,862],[24.05,828],[24.15,836],[24.25,869],[24.35,875],[24.45,834],[24.55,811],[24.65,861],[24.75,854],[24.85,822],[24.95,868],[25.05,843],[25.15,824],[25.25,874],[25.35,859],[25.50,830],[25.64,884],[25.75,846],[25.85,833],[25.95,870],[26.05,866],[26.15,825],[26.25,817],[26.35,852],[26.46,799],[26.55,840],[26.65,858],[26.75,821],[26.85,873],[26.95,846],[27.05,828],[27.15,871],[27.25,862],[27.35,826],[27.45,814],[27.54,857],[27.63,884],[27.72,835],[27.80,840],[27.90,874],[28.00,869],[28.10,827],[28.20,821],[28.30,866],[28.40,855],[28.50,819],[28.60,877],[28.70,843],[28.80,812],[28.90,861],[29.00,849],[29.10,823],[29.20,866],[29.35,838],[29.49,887],[29.57,851],[29.65,826],[29.75,868],[29.85,860],[29.95,833],[30.05,818],[30.15,856],[30.25,871],[30.35,829],[30.45,837],[30.55,873],[30.65,856],[30.80,822],[30.93,793],[31.02,839],[31.10,848],[31.20,819],[31.30,876],[31.40,846],[31.50,822],[31.60,871],[31.70,863],[31.80,828],[31.90,815],[32.00,866],[32.10,857],[32.20,824],[32.30,870],[32.42,843],[32.55,830],[32.66,867],[32.78,885],[32.87,832],[32.95,841],[33.05,873],[33.15,864],[33.25,827],[33.35,819],[33.45,862],[33.55,852],[33.68,823],[33.81,800],[33.90,846],[34.00,860],[34.10,821],[34.20,875],[34.30,849],[34.40,827],[34.48,871],[34.55,866],[34.63,830],[34.71,888],[34.80,850],[34.90,834],[35.00,869],[35.10,858],[35.22,826],[35.33,798],[35.42,841],[35.50,849],[35.60,820],[35.70,872],[35.80,845],[35.90,823],[36.00,868],[36.10,861],[36.20,832],[36.30,816],[36.43,851],[36.56,798],[36.65,842],[36.75,856],[36.85,824],[36.95,878],[37.05,847],[37.15,829],[37.25,871],[37.35,865],[37.45,826],[37.55,812],[37.68,860],[37.80,851],[37.90,822],[38.01,886],[38.10,844],[38.20,838],[38.30,874],[38.40,869],[38.50,831],[38.60,820],[38.70,866],[38.80,857],[38.90,826],[39.00,874],[39.10,841],[39.20,809],[39.30,853],[39.40,846],[39.50,818],[39.60,866],[39.70,837],[39.80,826],[39.88,872],[39.95,861],[40.05,828],[40.14,883],[40.22,849],[40.30,831],[40.40,867],[40.50,812],[40.60,845],[40.70,858],[40.80,823],[40.90,872],[41.00,850],[41.10,824],[41.20,869],[41.30,863],[41.40,829],[41.51,885],[41.60,847],[41.70,836],[41.80,864],[41.90,806],[42.00,848],[42.10,852],[42.20,821],[42.30,875],[42.40,843],[42.50,820],[42.60,868],[42.70,860],[42.80,826],[42.90,814],[43.00,859],[43.10,868],[43.20,824],[43.30,841],[43.40,872],[43.50,877],[43.60,835],[43.70,818],[43.80,863],[43.90,854],[44.05,827],[44.19,885],[44.27,846],[44.35,830],[44.45,873],[44.55,866],[44.65,822],[44.75,812],[44.85,857],[44.95,849],[45.05,824],[45.15,872],[45.25,848],[45.35,826],[45.45,869],[45.55,860],[45.65,831],[45.75,815],[45.85,858],[45.95,869],[46.05,827],[46.15,838],[46.25,871],[46.35,876],[46.45,836],[46.55,821],[46.65,863],[46.75,855],[46.85,826],[46.95,810],[47.05,851],[47.15,862],[47.22,825],[47.30,844],[47.40,866],[47.49,798],[47.55,839],[47.60,850],[47.68,822],[47.77,793],[47.86,841],[47.95,858],[48.05,822],[48.15,874],[48.25,847],[48.35,823],[48.45,870],[48.55,866],[48.70,829],[48.87,886],[48.96,845],[49.05,832],[49.15,871],[49.25,860],[49.35,824],[49.45,811],[49.55,862],[49.65,853],[49.75,822],[49.85,879],[49.95,843],[50.05,827],[50.15,870],[50.25,864],[50.35,829],[50.45,816],[50.55,859],[50.65,851],[50.75,823],[50.85,871],[50.96,840],[51.07,884],[51.16,846],[51.25,822],[51.35,868],[51.45,859],[51.55,827],[51.65,813],[51.75,857],[51.85,867],[51.95,824],[52.05,835],[52.18,872],[52.30,883],[52.40,841],[52.50,828],[52.60,866],[52.70,856],[52.80,825],[52.90,819],[52.98,858],[53.06,804],[53.15,847],[53.25,861],[53.35,826],[53.45,874],[53.55,849],[53.65,831],[53.74,866],[53.82,887],[53.91,838],[54.00,842],[54.10,872],[54.20,866],[54.30,828],[54.40,814],[54.50,859],[54.60,853],[54.70,822],[54.80,876],[54.90,846],[55.00,825],[55.10,868],[55.20,862],[55.30,828],[55.40,809],[55.50,855],[55.60,848],[55.70,821],[55.80,870],[55.90,840],[56.00,819],[56.10,866],[56.20,858],[56.30,826],[56.40,878],[56.50,847],[56.60,833],[56.70,873],[56.80,864],[56.90,826],[57.00,812],[57.10,860],[57.20,851],[57.30,824],[57.40,873],[57.50,842],[57.60,888],[57.70,846],[57.80,829],[57.90,869],[58.00,860],[58.10,826],[58.20,815],[58.31,857],[58.42,889],[58.51,842],[58.60,836],[58.70,874],[58.80,868],[58.90,829],[59.00,820],[59.08,862],[59.15,855],[59.23,823],[59.31,886],[59.40,845],[59.50,827],[59.60,870],[59.70,862],[59.80,828],[59.90,810],[60.00,857],[60.10,849],[60.20,821],[60.30,875],[60.40,843],[60.50,823],[60.60,871],[60.70,866],[60.80,829],[60.90,814],[61.00,862],[61.10,857],[61.20,824],[61.30,871],[61.40,846],[61.50,830],[61.60,868],[61.70,812],[61.80,851],[61.90,859],[62.00,822],[62.10,876],[62.20,846],[62.30,808],[62.41,788],[62.45,788],[62.52,829],[62.60,841],[62.71,870],[62.82,882],[62.91,839],[63.00,826],[63.10,866],[63.20,863],[63.30,824],[63.40,807],[63.50,857],[63.60,852],[63.69,821],[63.78,882],[63.86,843],[63.95,822],[64.05,870],[64.15,867],[64.25,826],[64.35,811],[64.45,864],[64.55,858],[64.62,819],[64.70,829],[64.76,866],[64.81,846],
[66.87,852],[66.96,871],[67.05,826],[67.12,848],[67.20,869],[67.30,822],[67.40,818],[67.50,866],[67.60,861],[67.70,829],[67.80,808],[67.92,856],[68.04,880],[68.12,846],[68.20,831],[68.30,869],[68.40,866],[68.50,823],[68.60,815],[68.70,862],[68.80,858],[68.90,819],[69.00,872],[69.10,847],[69.20,824],[69.30,871],[69.40,862],[69.50,826],[69.60,811],[69.70,860],[69.80,853],[69.90,821],[70.00,866],[70.10,839],[70.20,819],[70.30,868],[70.40,857],[70.50,825],[70.60,874],[70.70,842],[70.80,828],[70.90,861],[70.99,798],[71.07,840],[71.15,849],[71.25,822],[71.35,876],[71.45,845],[71.55,817],[71.62,859],[71.70,864],[71.76,829],[71.82,880],[71.91,842],[72.00,826],[72.10,868],[72.20,862],[72.30,825],[72.40,808],[72.50,855],[72.60,871],[72.70,826],[72.80,835],[72.90,869],[73.00,878],[73.08,839],[73.15,820],[73.22,863],[73.30,846],[73.35,815],[73.40,788],[73.48,842],[73.55,853],[73.65,818],[73.75,830],
[87.84,877],[87.90,866],[87.95,857],[88.02,800],[88.06,802],[88.10,836],[88.15,883],[88.20,851],[88.25,868],[88.30,817],[88.35,826],[88.40,864],[88.45,871],[88.50,834],[88.55,843],[88.60,870],[88.65,861],[88.70,828],[88.75,845]
];

// ---------- layout ----------
const TXT = 48.5;   // table / header / footer text size
const TICK = 47;    // tick label size
const TABLE = {left: 321, top: 268, width: 1894, height: 514};
const PLOTS = [
  {left: 321, top: 1025, width: 1896, height: 516},
  {left: 321, top: 1782, width: 1896, height: 517},
  {left: 321, top: 2541, width: 1896, height: 516}
];
const lineSt = {color: AXC, width: 2};

function gridOf(r) { return Object.assign({containLabel: false, outerBoundsMode: 'none'}, r); }

function plotXAxes(gi) {
  const base = {type: 'value', gridIndex: gi, min: 0, max: X_MAX, interval: X_STEP,
    splitLine: {show: false}, axisLine: {show: true, onZero: false, lineStyle: lineSt},
    axisTick: {show: true, inside: true, length: 19, lineStyle: lineSt}};
  return [
    Object.assign({}, base, {position: 'bottom', axisLabel: {show: true, rotate: 30, margin: 34,
      align: 'right', verticalAlign: 'top', lineHeight: 47, fontSize: TICK, fontFamily: FONT, color: AXC,
      showMinLabel: true, showMaxLabel: true,
      formatter: v => tickLabels[Math.round(v / X_STEP)] || ''}}),
    Object.assign({}, base, {position: 'top', axisLabel: {show: false}})
  ];
}
function plotYAxes(gi, min, max, interval, custom) {
  const base = {type: 'value', gridIndex: gi, min: min, max: max,
    splitLine: {show: false}, axisLine: {show: true, onZero: false, lineStyle: lineSt},
    axisTick: {show: true, inside: true, length: 19, lineStyle: lineSt}};
  if (interval) base.interval = interval;
  const left = Object.assign({}, base, {position: 'left',
    axisLabel: {show: true, margin: 25, fontSize: TICK, fontFamily: FONT, color: AXC, showMinLabel: true, showMaxLabel: true}});
  const right = Object.assign({}, base, {position: 'right', axisLabel: {show: false}});
  if (custom) {
    left.axisLabel.customValues = custom;
    left.axisTick = Object.assign({}, base.axisTick, {customValues: custom});
    right.axisTick = Object.assign({}, base.axisTick, {customValues: custom});
  }
  return [left, right];
}

const tblLine = {show: true, lineStyle: {color: '#dcdcdc', width: 2}};
const tblTick = {show: true, inside: true, length: 19, lineStyle: lineSt};
const xAxis = [
  {type: 'value', gridIndex: 0, min: 0, max: 6, interval: 1, position: 'bottom', axisLine: {show: true, onZero: false, lineStyle: lineSt}, axisTick: tblTick, axisLabel: {show: false}, splitLine: tblLine},
  {type: 'value', gridIndex: 0, min: 0, max: 6, interval: 1, position: 'top', axisLine: {show: true, onZero: false, lineStyle: lineSt}, axisTick: tblTick, axisLabel: {show: false}, splitLine: {show: false}}
].concat(plotXAxes(1), plotXAxes(2), plotXAxes(3));
const yAxis = [
  {type: 'value', gridIndex: 0, min: 0, max: 8, interval: 1, inverse: true, position: 'left', axisLine: {show: true, onZero: false, lineStyle: lineSt}, axisTick: tblTick, axisLabel: {show: false}, splitLine: tblLine},
  {type: 'value', gridIndex: 0, min: 0, max: 8, interval: 1, inverse: true, position: 'right', axisLine: {show: true, onZero: false, lineStyle: lineSt}, axisTick: tblTick, axisLabel: {show: false}, splitLine: {show: false}}
].concat(plotYAxes(1, -40, 0, 10), plotYAxes(2, 40, 55, 5), plotYAxes(3, 787.6, 900, null, [800, 850, 900]));

// table cells as a label-only scatter series
const cellData = [];
[tableHeader].concat(tableRows).forEach((row, r) => {
  row.forEach((txt, c) => { if (txt !== '') cellData.push({value: [c + 0.202, r + 0.5], t: txt}); });
});

function lineSeries(name, data, color, xi, yi, size) {
  return {type: 'line', name: name, xAxisIndex: xi, yAxisIndex: yi, data: data,
    symbol: 'circle', symbolSize: size, showSymbol: true, showAllSymbol: true, clip: false,
    lineStyle: {color: color, width: 2}, itemStyle: {color: color}, silent: true,
    emphasis: {disabled: true}, animation: false};
}

const series = [
  {type: 'scatter', xAxisIndex: 0, yAxisIndex: 0, data: cellData, symbolSize: 0, silent: true,
   label: {show: true, position: 'right', distance: 0, formatter: p => p.data.t,
     fontSize: TXT, fontFamily: FONT, color: '#000'}, animation: false},
  lineSeries(seriesNames[0], tintData, '#ff0000', 2, 2, 13),
  lineSeries(seriesNames[1], textData, '#0000ff', 2, 2, 13),
  lineSeries('Humidity', humidityData, '#ff0000', 4, 4, 11),
  lineSeries('Pressure', pressureData, '#ff0000', 6, 6, 11)
];

function txt(x, y, s, size, weight, align) {
  return {type: 'text', x: x, y: y, silent: true, z: 100,
    style: {text: s, fontSize: size, fontFamily: FONT, fontWeight: weight || 'normal', fill: '#000',
      align: align || 'left', verticalAlign: 'middle', textAlign: align || 'left', textVerticalAlign: 'middle'}};
}

const graphic = [
  {type: 'rect', shape: {x: 369, y: 68, width: 1838, height: 107}, style: {fill: 'none', stroke: AXC, lineWidth: 2}, silent: true},
  txt(405, 156, '2024', TXT),
  txt(532, 183, 'P', 34),
  txt(555, 156, 'OLARSTERN  IMEI:300025010637460  - IAOOS39 transmitted data', TXT),
  txt(1240, 982, plotTitles[0], 54, 'bold', 'center'),
  txt(1240, 1739, plotTitles[1], 54, 'bold', 'center'),
  txt(1240, 2497, plotTitles[2], 54, 'bold', 'center'),
  txt(1863, 3411, '23-Oct-2025 06:40:49 IAOOS', TXT)
];

const chart = echarts.init(document.getElementById('c'), null, {renderer: 'svg', width: 2450, height: 3465});
chart.setOption({
  animation: false,
  backgroundColor: '#fff',
  textStyle: {fontFamily: FONT},
  grid: [gridOf(TABLE)].concat(PLOTS.map(gridOf)),
  xAxis: xAxis,
  yAxis: yAxis,
  legend: {data: seriesNames, orient: 'vertical', left: 1881, top: 1054,
    itemWidth: 146, itemHeight: 13, itemGap: 17, padding: [17, 29, 17, 19],
    borderColor: AXC, borderWidth: 2, backgroundColor: '#fff', borderRadius: 0,
    selectedMode: false,
    textStyle: {fontSize: 43, fontFamily: FONT, color: '#000', padding: [0, 0, 0, 10]}},
  series: series,
  graphic: graphic
});
</script>
</body></html>
